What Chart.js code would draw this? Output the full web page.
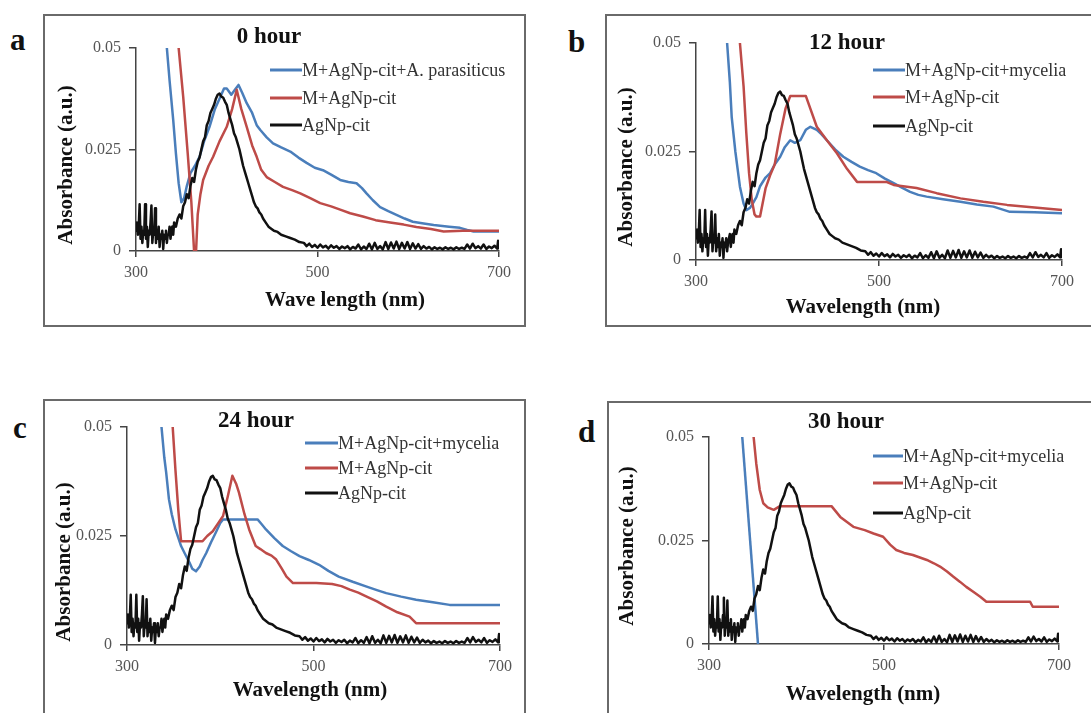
<!DOCTYPE html>
<html>
<head>
<meta charset="utf-8">
<script src="https://cdn.jsdelivr.net/npm/chart.js@4.4.1/dist/chart.umd.min.js"></script>
<style>
  body { margin: 0; background: #fff; width: 1091px; height: 713px; overflow: hidden; position: relative; font-family: 'Liberation Serif', serif; }
  .frame { position: absolute; border: 2px solid #6a6a6a; box-sizing: border-box; }
  .plot { position: absolute; }
  .letter { position: absolute; font-weight: bold; font-size: 31px; line-height: 1; color: #111; }
</style>
</head>
<body>
<div id="page"></div>
<script>
// tick labels
const xTicks = [300, 500, 700];
const yTicks = [0, 0.025, 0.05];

// series labels
const labelFungus = 'M+AgNp-cit+A. parasiticus';
const labelMycelia = 'M+AgNp-cit+mycelia';
const labelMedium = 'M+AgNp-cit';
const labelCitrate = 'AgNp-cit';

// AgNp-cit control, [wavelength nm, absorbance]
const agNpCit = [
  [300,0.005],[301,0.007],[302,0.004],[303,0.006],[304,0.0115],[305,0.003],[306,0.006],[307,0.002],[308,0.005],[309,0.004],
  [310,0.0115],[311,0.003],[312,0.006],[313,0.001],[314,0.005],[315,0.004],[316,0.007],[317,0.0112],[318,0.002],[319,0.005],
  [320,0.004],[321,0.0105],[322,0.002],[323,0.005],[324,0.003],[325,0.006],[326,0.001],[327,0.004],[328,0.003],[329,0.005],
  [330,0.0005],[331,0.004],[332,0.003],[333,0.005],[334,0.002],[335,0.004],[336,0.004],[337,0.006],[338,0.003],[339,0.005],
  [340,0.006],[341,0.004],[342,0.007],[344,0.006],[346,0.008],[348,0.009],[350,0.008],[352,0.011],[354,0.012],[356,0.014],
  [358,0.013],[360,0.016],[362,0.018],[364,0.017],[366,0.02],[368,0.022],[370,0.023],[372,0.025],[374,0.027],[376,0.028],
  [378,0.031],[380,0.032],[382,0.034],[384,0.035],[386,0.036],[388,0.0375],[390,0.0385],[392,0.0388],[394,0.038],[396,0.0378],
  [398,0.0368],[400,0.036],[402,0.034],[404,0.0325],[406,0.031],[408,0.029],[410,0.028],[412,0.0265],[414,0.025],[416,0.023],
  [418,0.021],[420,0.0195],[422,0.018],[424,0.0165],[426,0.015],[428,0.0135],[430,0.012],[432,0.011],[434,0.0105],[436,0.0095],
  [438,0.009],[440,0.008],[443,0.007],[446,0.006],[449,0.0055],[452,0.005],[456,0.0047],[460,0.004],[465,0.0036],[470,0.0032],
  [475,0.0028],[480,0.0022],[485,0.002],[488,0.0012],[491,0.0018],[494,0.001],[497,0.0015],[500,0.0008],[503,0.0016],[506,0.0009],
  [509,0.0013],[512,0.0006],[515,0.0014],[518,0.0008],[521,0.0012],[524,0.0005],[527,0.0011],[530,0.0007],[533,0.0012],[536,0.0004],
  [539,0.001],[542,0.0006],[545,0.0016],[548,0.0004],[551,0.0011],[554,0.0005],[557,0.0018],[560,0.0004],[563,0.002],[566,0.0005],
  [569,0.0012],[572,0.0004],[575,0.0022],[578,0.0005],[581,0.0021],[584,0.0006],[587,0.0023],[590,0.0005],[593,0.002],[596,0.0006],
  [599,0.0022],[602,0.0005],[605,0.0019],[608,0.0006],[611,0.0017],[614,0.0005],[617,0.0012],[620,0.0006],[623,0.001],[626,0.0004],
  [629,0.0009],[632,0.0005],[635,0.0008],[638,0.0004],[641,0.0009],[644,0.0005],[647,0.0008],[650,0.0004],[653,0.0009],[656,0.0005],
  [659,0.0008],[662,0.0005],[665,0.0016],[668,0.0006],[671,0.0018],[674,0.0007],[677,0.0012],[680,0.0006],[683,0.0016],[686,0.0005],
  [689,0.0011],[692,0.0007],[695,0.0013],[698,0.0006],[699,0.0025],[700,0.0004]
];

// 0 hour
const blue0h = [
  [334,0.05],[337,0.042],[341,0.0323],[344,0.024],[347,0.0167],[350,0.012],[353,0.013],[356,0.016],[360,0.0192],[365,0.021],
  [370,0.0232],[375,0.027],[381,0.0306],[387,0.035],[393,0.038],[397,0.04],[400,0.04],[405,0.0385],[410,0.04],[413,0.0409],
  [417,0.039],[422,0.0364],[428,0.034],[433,0.031],[437,0.0298],[444,0.028],[451,0.0265],[460,0.0255],[470,0.0245],[479,0.023],
  [488,0.0217],[497,0.0205],[506,0.0199],[515,0.0188],[525,0.0175],[534,0.017],[543,0.0167],[549,0.0155],[554,0.0142],[561,0.0125],
  [569,0.0108],[578,0.0098],[587,0.0089],[596,0.008],[605,0.0072],[617,0.0068],[628,0.0064],[645,0.006],[657,0.0057],[665,0.0052],
  [672,0.0048],[700,0.0048]
];
const red0h = [
  [347,0.05],[352,0.038],[357,0.024],[361,0.012],[364,0],[366,-0.001],[368,0.009],[371,0.014],[374,0.0175],[380,0.021],
  [385,0.0232],[392,0.027],[400,0.0306],[406,0.035],[411,0.0397],[416,0.035],[422,0.0306],[428,0.026],[433,0.0232],[438,0.02],
  [444,0.0182],[453,0.017],[462,0.0158],[472,0.015],[481,0.0142],[492,0.013],[503,0.0118],[515,0.011],[525,0.0102],[536,0.0093],
  [550,0.0085],[564,0.0076],[580,0.007],[595,0.0065],[609,0.0059],[625,0.0054],[639,0.0048],[660,0.005],[700,0.005]
];

// 12 hour
const blue12h = [
  [334,0.05],[337,0.041],[339,0.033],[343,0.025],[348,0.0169],[352,0.013],[355,0.0115],[359,0.012],[362,0.013],[366,0.0145],
  [370,0.017],[376,0.019],[381,0.02],[386,0.022],[392,0.0238],[397,0.026],[403,0.0276],[408,0.027],[414,0.0276],[420,0.03],
  [425,0.0307],[432,0.03],[437,0.029],[443,0.0276],[452,0.0255],[461,0.0238],[470,0.0226],[479,0.0215],[488,0.0207],[497,0.02],
  [506,0.0188],[516,0.0177],[525,0.0167],[534,0.0157],[543,0.015],[552,0.0146],[570,0.014],[589,0.0134],[607,0.0128],[625,0.0123],
  [643,0.0111],[670,0.011],[700,0.0108]
];
const red12h = [
  [348,0.05],[352,0.04],[355,0.0292],[358,0.02],[361,0.0138],[364,0.0105],[366,0.01],[370,0.01],[376,0.0165],[381,0.0195],
  [386,0.022],[392,0.029],[398,0.035],[403,0.0378],[420,0.0378],[432,0.0307],[443,0.0276],[454,0.0246],[465,0.021],[476,0.018],
  [508,0.018],[516,0.0173],[541,0.0166],[563,0.0154],[589,0.0142],[614,0.0134],[640,0.0127],[676,0.012],[700,0.0115]
];

// 24 hour
const blue24h = [
  [337,0.05],[340,0.043],[342,0.0396],[345,0.0334],[348,0.03],[352,0.0265],[358,0.0227],[362,0.021],[367,0.0189],[370,0.0175],
  [374,0.0169],[378,0.018],[381,0.0195],[385,0.0211],[390,0.0235],[395,0.0257],[400,0.028],[403,0.0288],[440,0.0288],[444,0.0278],
  [449,0.0265],[458,0.0245],[467,0.0227],[476,0.0215],[485,0.0204],[495,0.0195],[506,0.0184],[516,0.017],[527,0.0157],[542,0.0145],
  [557,0.0134],[568,0.0126],[578,0.0119],[594,0.0111],[610,0.0104],[628,0.0098],[646,0.0092],[700,0.0092]
];
const red24h = [
  [349,0.05],[352,0.04],[355,0.031],[358,0.0238],[381,0.0238],[386,0.025],[392,0.0261],[398,0.028],[403,0.0296],[408,0.034],
  [413,0.0388],[417,0.037],[420,0.035],[426,0.03],[431,0.0265],[438,0.0227],[443,0.022],[449,0.0211],[455,0.0205],[460,0.0196],
  [466,0.0175],[471,0.0157],[478,0.0142],[503,0.0142],[520,0.014],[530,0.0135],[539,0.0127],[548,0.012],[557,0.0111],[568,0.01],
  [578,0.0088],[590,0.0075],[603,0.0065],[610,0.005],[700,0.005]
];

// 30 hour
const blue30h = [[338,0.05],[347,0.025],[356,0]];
const red30h = [
  [351,0.05],[354,0.0436],[358,0.0372],[362,0.034],[367,0.033],[374,0.0324],[381,0.0333],[440,0.0333],[450,0.0307],[465,0.0283],
  [478,0.0275],[488,0.0267],[499,0.0259],[507,0.024],[514,0.0227],[523,0.022],[533,0.0215],[549,0.0203],[557,0.0195],[564,0.0187],
  [572,0.0175],[579,0.0163],[587,0.015],[594,0.0138],[602,0.0126],[610,0.0114],[617,0.0102],[667,0.0102],[670,0.009],[700,0.009]
];

const BLUE = '#4a7ebb';
const RED = '#be4b48';
const BLACK = '#111111';

const panels = [
  { letter: 'a', letterPos: [10, 24], title: '0 hour', xTitle: 'Wave length (nm)', blue: blue0h, red: red0h, blueLabel: labelFungus,
    box: { x: 43, y: 14, w: 483, h: 313 }, area: { l: 93, t: 34, r: 456, b: 237 },
    titlePos: [226, 23], xTitlePos: [302, 287], yTitlePos: [24, 151], legend: { x0: 227, x1: 259, ys: [56, 84, 111] } },
  { letter: 'b', letterPos: [568, 26], title: '12 hour', xTitle: 'Wavelength (nm)', blue: blue12h, red: red12h, blueLabel: labelMycelia,
    box: { x: 605, y: 14, w: 492, h: 313 }, area: { l: 91, t: 29, r: 457, b: 246 },
    titlePos: [242, 29], xTitlePos: [258, 294], yTitlePos: [22, 153], legend: { x0: 268, x1: 300, ys: [56, 83, 112] } },
  { letter: 'c', letterPos: [13, 412], title: '24 hour', xTitle: 'Wavelength (nm)', blue: blue24h, red: red24h, blueLabel: labelMycelia,
    box: { x: 43, y: 399, w: 483, h: 324 }, area: { l: 84, t: 28, r: 457, b: 246 },
    titlePos: [213, 22], xTitlePos: [267, 292], yTitlePos: [22, 163], legend: { x0: 262, x1: 295, ys: [44, 69, 94] } },
  { letter: 'd', letterPos: [578, 416], title: '30 hour', xTitle: 'Wavelength (nm)', blue: blue30h, red: red30h, blueLabel: labelMycelia,
    box: { x: 607, y: 401, w: 490, h: 322 }, area: { l: 102, t: 36, r: 452, b: 243 },
    titlePos: [239, 21], xTitlePos: [256, 294], yTitlePos: [21, 145], legend: { x0: 266, x1: 296, ys: [55, 82, 112] } }
];

const toPoints = (arr) => arr.map(([x, y]) => ({ x: x, y: y }));

const panelText = {
  id: 'panelText',
  afterDraw(chart, args, opts) {
    const ctx = chart.ctx;
    ctx.save();
    ctx.fillStyle = '#111';
    ctx.textAlign = 'center';
    ctx.textBaseline = 'middle';
    ctx.font = 'bold 23px "Liberation Serif"';
    ctx.fillText(opts.title, opts.titlePos[0], opts.titlePos[1]);
    ctx.font = 'bold 21px "Liberation Serif"';
    ctx.fillText(opts.xTitle, opts.xTitlePos[0], opts.xTitlePos[1]);
    ctx.translate(opts.yTitlePos[0], opts.yTitlePos[1]);
    ctx.rotate(-Math.PI / 2);
    ctx.fillText('Absorbance (a.u.)', 0, 0);
    ctx.restore();

    // legend: short line then label
    ctx.save();
    ctx.font = '18px "Liberation Serif"';
    ctx.textAlign = 'left';
    ctx.textBaseline = 'middle';
    chart.data.datasets.forEach((ds, i) => {
      const y = opts.legend.ys[i];
      ctx.strokeStyle = ds.borderColor;
      ctx.lineWidth = 3;
      ctx.beginPath();
      ctx.moveTo(opts.legend.x0, y);
      ctx.lineTo(opts.legend.x1, y);
      ctx.stroke();
      ctx.fillStyle = '#333';
      ctx.fillText(ds.label, opts.legend.x1, y + 1);
    });
    ctx.restore();
  }
};

const page = document.getElementById('page');

panels.forEach((p) => {
  const frame = document.createElement('div');
  frame.className = 'frame';
  frame.style.left = p.box.x + 'px';
  frame.style.top = p.box.y + 'px';
  frame.style.width = p.box.w + 'px';
  frame.style.height = p.box.h + 'px';
  page.appendChild(frame);

  const letter = document.createElement('div');
  letter.className = 'letter';
  letter.textContent = p.letter;
  letter.style.left = p.letterPos[0] + 'px';
  letter.style.top = p.letterPos[1] + 'px';
  page.appendChild(letter);

  const canvas = document.createElement('canvas');
  canvas.className = 'plot';
  canvas.width = p.box.w;
  canvas.height = p.box.h;
  canvas.style.left = p.box.x + 'px';
  canvas.style.top = p.box.y + 'px';
  page.appendChild(canvas);

  const tickFont = { family: 'Liberation Serif', size: 16 };

  new Chart(canvas.getContext('2d'), {
    type: 'line',
    data: {
      datasets: [
        { label: p.blueLabel, data: toPoints(p.blue), borderColor: BLUE, borderWidth: 2.5, order: 2 },
        { label: labelMedium, data: toPoints(p.red), borderColor: RED, borderWidth: 2.5, order: 1 },
        { label: labelCitrate, data: toPoints(agNpCit), borderColor: BLACK, borderWidth: 2.5, order: 0 }
      ]
    },
    options: {
      responsive: false,
      animation: false,
      events: [],
      elements: {
        point: { radius: 0 },
        line: { tension: 0, fill: false, borderJoinStyle: 'round' }
      },
      layout: {
        padding: { left: 0, top: p.area.t, right: p.box.w - p.area.r, bottom: 0 }
      },
      scales: {
        x: {
          type: 'linear',
          min: 300,
          max: 700,
          afterBuildTicks: (s) => { s.ticks = xTicks.map(v => ({ value: v })); },
          afterFit: (s) => { s.height = p.box.h - p.area.b; },
          grid: { display: true, drawOnChartArea: false, drawTicks: true, tickLength: 6, color: '#444', lineWidth: 1.5 },
          border: { display: true, color: '#444', width: 1.5 },
          ticks: { font: tickFont, color: '#555', padding: 6, maxRotation: 0, autoSkip: false, callback: (v) => String(v) }
        },
        y: {
          type: 'linear',
          min: 0,
          max: 0.05,
          afterBuildTicks: (s) => { s.ticks = yTicks.map(v => ({ value: v })); },
          afterFit: (s) => { s.width = p.area.l; },
          grid: { display: true, drawOnChartArea: false, drawTicks: true, tickLength: 7, color: '#444', lineWidth: 1.5 },
          border: { display: true, color: '#444', width: 1.5 },
          ticks: { font: tickFont, color: '#555', padding: 8, autoSkip: false, callback: (v) => String(v) }
        }
      },
      plugins: {
        legend: { display: false },
        tooltip: { enabled: false },
        panelText: {
          title: p.title,
          titlePos: p.titlePos,
          xTitle: p.xTitle,
          xTitlePos: p.xTitlePos,
          yTitlePos: p.yTitlePos,
          legend: p.legend
        }
      }
    },
    plugins: [panelText]
  });
});
</script>
</body>
</html>
